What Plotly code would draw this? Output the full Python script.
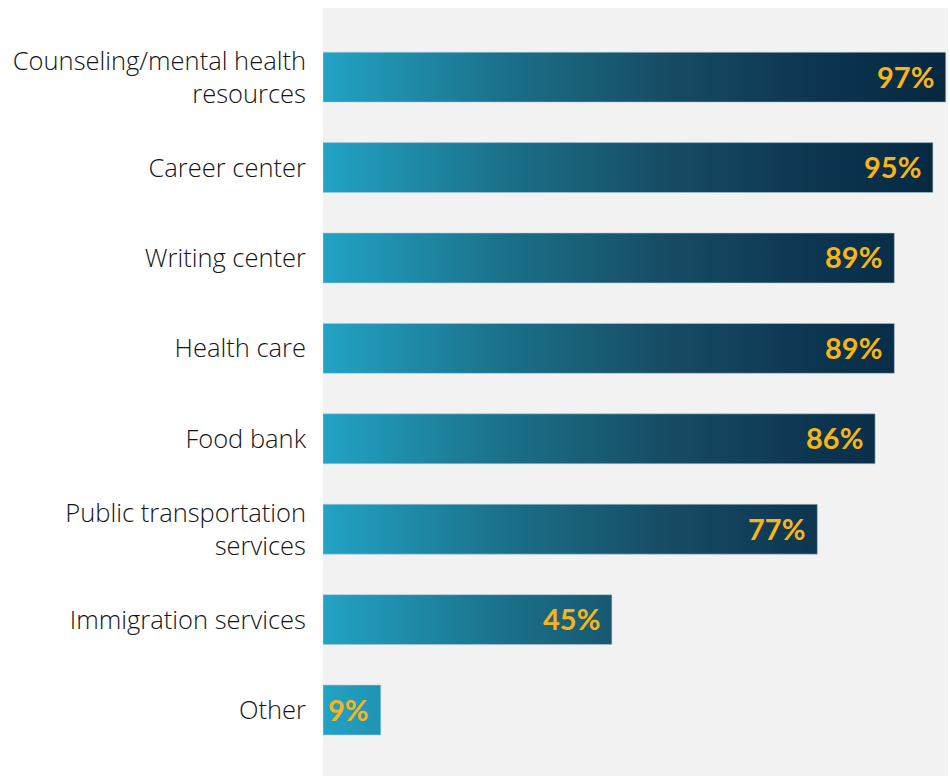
import plotly.graph_objects as go

# Share of respondents reporting each campus resource
categories = [
    "Counseling/mental health<br>resources",
    "Career center",
    "Writing center",
    "Health care",
    "Food bank",
    "Public transportation<br>services",
    "Immigration services",
    "Other",
]
values = [97, 95, 89, 89, 86, 77, 45, 9]
value_labels = [f"{v}%" for v in values]

# Horizontal teal-to-navy gradient shared by every bar (absolute x positions)
bar_scale = [
    [0.0, "#22a3c5"],
    [0.3, "#1a6f88"],
    [0.55, "#174c65"],
    [0.78, "#0d3651"],
    [1.0, "#052840"],
]
half = 0.276  # half bar thickness in category units

fig = go.Figure()
for i, v in enumerate(values):
    fig.add_trace(go.Scatter(
        x=[0, v, v, 0, 0],
        y=[i - half, i - half, i + half, i + half, i - half],
        mode="lines",
        fill="toself",
        line=dict(width=1, color="rgba(180,200,215,0.55)"),
        fillgradient=dict(type="horizontal", colorscale=bar_scale, start=0, stop=97),
        hoverinfo="skip",
        showlegend=False,
    ))
    fig.add_annotation(
        x=v, y=i, text=value_labels[i], showarrow=False,
        xanchor="right", yanchor="middle", xshift=-10, yshift=1,
        font=dict(family="Lato", size=29, color="#f7b519", weight=700),
    )

fig.update_layout(
    width=950, height=776,
    margin=dict(l=323, r=2, t=8, b=0),
    paper_bgcolor="white",
    plot_bgcolor="#f2f2f2",
    xaxis=dict(range=[0, 97.35], showgrid=False, zeroline=False,
               showticklabels=False, fixedrange=True),
    yaxis=dict(range=[7.73, -0.765], tickvals=list(range(len(categories))),
               ticktext=categories, showgrid=False, zeroline=False,
               ticks="", ticklabelstandoff=16,
               tickfont=dict(family="Open Sans", size=25.5, color="#141414", weight=300)),
)

fig.write_html("out.html")
